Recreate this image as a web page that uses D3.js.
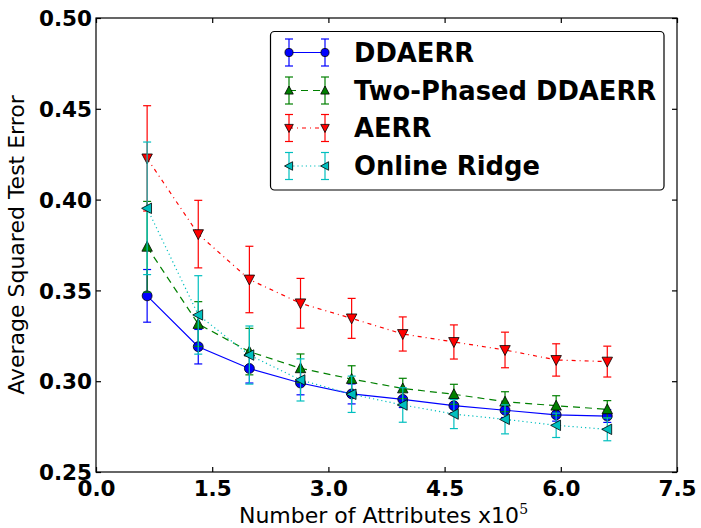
<!DOCTYPE html>
<html><head><meta charset="utf-8">
<script src="https://cdnjs.cloudflare.com/ajax/libs/d3/7.8.5/d3.min.js"></script>
<style>body{margin:0;background:#fff}svg{display:block}</style>
</head><body><svg id="c" width="701" height="528"></svg>
<script>
const xVals = [0.66, 1.32, 1.98, 2.64, 3.30, 3.96, 4.62, 5.28, 5.94, 6.60];
const ddaerr = [0.347, 0.319, 0.307, 0.299, 0.293, 0.290, 0.2865, 0.284, 0.2815, 0.2808];
const ddaerrErr = [0.0145, 0.0095, 0.008, 0.0065, 0.0055, 0.0045, 0.004, 0.004, 0.0035, 0.0035];
const twoPhased = [0.374, 0.3315, 0.3163, 0.3071, 0.3012, 0.296, 0.2928, 0.2887, 0.2865, 0.2845];
const twoPhasedErr = [0.025, 0.0123, 0.0128, 0.0079, 0.0073, 0.0056, 0.0055, 0.0055, 0.0055, 0.0048];
const aerr = [0.4227, 0.381, 0.356, 0.3429, 0.3346, 0.326, 0.3216, 0.3172, 0.3117, 0.3108];
const aerrErr = [0.029, 0.0186, 0.0183, 0.0137, 0.011, 0.0094, 0.0094, 0.0098, 0.0089, 0.0085];
const onlineRidge = [0.3952, 0.3365, 0.3144, 0.3007, 0.2928, 0.2869, 0.2819, 0.279, 0.2757, 0.2735];
const onlineRidgeErr = [0.0365, 0.0216, 0.016, 0.0116, 0.010, 0.0095, 0.008, 0.008, 0.0067, 0.0063];
const xTicks = [0.0, 1.5, 3.0, 4.5, 6.0, 7.5];
const yTicks = [0.25, 0.30, 0.35, 0.40, 0.45, 0.50];
const seriesNames = ["DDAERR", "Two-Phased DDAERR", "AERR", "Online Ridge"];

const series = [
  {name: seriesNames[0], y: ddaerr, e: ddaerrErr, color: "#0000ff", dash: null, marker: "o"},
  {name: seriesNames[1], y: twoPhased, e: twoPhasedErr, color: "#008000", dash: "7,5", marker: "^"},
  {name: seriesNames[2], y: aerr, e: aerrErr, color: "#ff0000", dash: "4,4,1,4", marker: "v"},
  {name: seriesNames[3], y: onlineRidge, e: onlineRidgeErr, color: "#00bfbf", dash: "1.2,3", marker: "<"}
];

const L = 96, R = 677, T = 18, B = 472;
const svg = d3.select("#c");
const x = d3.scaleLinear().domain([0, 7.5]).range([L, R]);
const y = d3.scaleLinear().domain([0.25, 0.50]).range([B, T]);
const FONT = "DejaVu Sans, sans-serif";

function markerPath(m, cx, cy, s) {
  const h = s;
  if (m === "^") return `M${cx},${cy-h}L${cx+h*0.95},${cy+h*0.8}L${cx-h*0.95},${cy+h*0.8}Z`;
  if (m === "v") return `M${cx},${cy+h}L${cx+h*0.95},${cy-h*0.8}L${cx-h*0.95},${cy-h*0.8}Z`;
  if (m === "<") return `M${cx-h},${cy}L${cx+h*0.8},${cy-h*0.95}L${cx+h*0.8},${cy+h*0.95}Z`;
  return null;
}
function drawMarker(g, m, cx, cy, color, s) {
  if (m === "o") {
    g.append("circle").attr("cx", cx).attr("cy", cy).attr("r", s*0.9)
      .attr("fill", color).attr("stroke", "#000").attr("stroke-width", 0.8);
  } else {
    g.append("path").attr("d", markerPath(m, cx, cy, s))
      .attr("fill", color).attr("stroke", "#000").attr("stroke-width", 0.8);
  }
}
function drawErr(g, cx, y1, y2, color) {
  g.append("line").attr("x1", cx).attr("x2", cx).attr("y1", y1).attr("y2", y2)
    .attr("stroke", color).attr("stroke-width", 1.2);
  [y1, y2].forEach(yy => g.append("line").attr("x1", cx-4).attr("x2", cx+4)
    .attr("y1", yy).attr("y2", yy).attr("stroke", color).attr("stroke-width", 1.2));
}

const plot = svg.append("g");
const line = d3.line().x((d, i) => x(xVals[i])).y(d => y(d));
series.forEach(s => {
  const g = plot.append("g");
  g.append("path").datum(s.y).attr("d", line).attr("fill", "none")
    .attr("stroke", s.color).attr("stroke-width", 1.2)
    .attr("stroke-dasharray", s.dash);
  s.y.forEach((v, i) => drawErr(g, x(xVals[i]), y(v + s.e[i]), y(v - s.e[i]), s.color));
  s.y.forEach((v, i) => drawMarker(g, s.marker, x(xVals[i]), y(v), s.color, 5.5));
});

// frame
svg.append("rect").attr("x", L).attr("y", T).attr("width", R-L).attr("height", B-T)
  .attr("fill", "none").attr("stroke", "#000").attr("stroke-width", 1.2);

// axes with inward ticks
const xb = svg.append("g").attr("transform", `translate(0,${B})`)
  .call(d3.axisBottom(x).tickValues(xTicks).tickFormat(d3.format(".1f")).tickSizeInner(-5).tickSizeOuter(0).tickPadding(9));
const xt = svg.append("g").attr("transform", `translate(0,${T})`)
  .call(d3.axisTop(x).tickValues(xTicks).tickFormat("").tickSizeInner(-5).tickSizeOuter(0));
const yl = svg.append("g").attr("transform", `translate(${L},0)`)
  .call(d3.axisLeft(y).tickValues(yTicks).tickFormat(d3.format(".2f")).tickSizeInner(-5).tickSizeOuter(0).tickPadding(4));
const yr = svg.append("g").attr("transform", `translate(${R},0)`)
  .call(d3.axisRight(y).tickValues(yTicks).tickFormat("").tickSizeInner(-5).tickSizeOuter(0));
[xb, xt, yl, yr].forEach(a => {
  a.select(".domain").remove();
  a.selectAll(".tick line").attr("stroke", "#000").attr("stroke-width", 1.2);
  a.selectAll("text").attr("font-family", FONT).attr("font-weight", "bold")
    .attr("font-size", 21.5).attr("fill", "#000");
});
xb.selectAll("text").attr("dy", "0.71em");
yl.selectAll("text").attr("dy", "0.36em");

// axis labels
const xl = svg.append("text").attr("x", (L+R)/2 - 3).attr("y", 523)
  .attr("text-anchor", "middle").attr("font-family", FONT).attr("font-size", 22).attr("fill", "#000");
xl.append("tspan").text("Number of Attributes x10");
xl.append("tspan").attr("dy", -9).attr("font-size", 14).attr("font-family", "DejaVu Serif, serif").text("5");
svg.append("text").attr("transform", `translate(24,${(T+B)/2}) rotate(-90)`)
  .attr("text-anchor", "middle").attr("font-family", FONT).attr("font-size", 22).attr("fill", "#000")
  .text("Average Squared Test Error");

// legend
const lg = svg.append("g");
lg.append("rect").attr("x", 270.5).attr("y", 31.5).attr("width", 393.5).attr("height", 158.5)
  .attr("rx", 4).attr("fill", "#fff").attr("stroke", "#000").attr("stroke-width", 1.2);
const rowsY = [52.5, 90.5, 128, 166];
series.forEach((s, i) => {
  const g = lg.append("g");
  const yy = rowsY[i], x1 = 289, x2 = 325;
  g.append("line").attr("x1", x1).attr("x2", x2).attr("y1", yy).attr("y2", yy)
    .attr("stroke", s.color).attr("stroke-width", 1.2).attr("stroke-dasharray", s.dash);
  [x1, x2].forEach(cx => drawErr(g, cx, yy-13.5, yy+13.5, s.color));
  [x1, x2].forEach(cx => drawMarker(g, s.marker, cx, yy, s.color, 4.5));
  g.append("text").attr("x", 354).attr("y", yy).attr("dy", "0.36em")
    .attr("font-family", FONT).attr("font-weight", "bold").attr("font-size", 25.8)
    .attr("fill", "#000").text(s.name);
});
</script></body></html>
